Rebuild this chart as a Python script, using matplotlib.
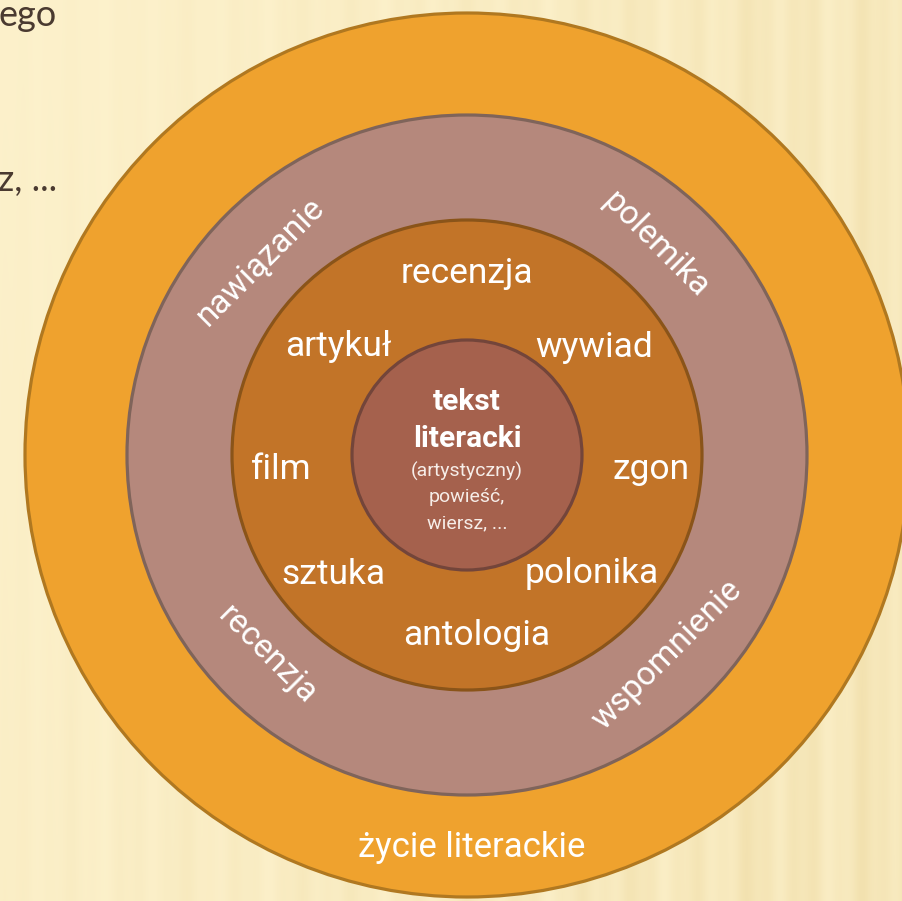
import numpy as np
import matplotlib
matplotlib.use("Agg")
import matplotlib.pyplot as plt
from matplotlib.patches import Circle

# ---- data ----
ring_names = ["życie literackie", "kontekst", "otoczenie", "tekst literacki"]
ring_radii = [442, 340, 235, 115]
ring_fill = ["#EFA22E", "#B5887C", "#C27428", "#A5614D"]
ring_edge = ["#B07820", "#7F645A", "#8A5419", "#73453A"]

outer_label = "życie literackie"
middle_labels = ["nawiązanie", "polemika", "recenzja", "wspomnienie"]
middle_angles = [137, 48, 225, 315]
middle_rot = [45, -45, -45, 45]
inner_labels = ["recenzja", "wywiad", "zgon", "polonika", "antologia", "sztuka", "film", "artykuł"]
inner_angles = [90, 41, -3.5, -43, -87, 221, 183.5, 139]
inner_dist = [185, 168, 184, 170, 178, 177, 186, 170]
core_title = ["tekst", "literacki"]
core_sub = ["(artystyczny)", "powieść,", "wiersz, ..."]
corner_texts = ["ego", "z, ..."]

W, H = 902, 901
cx, cy = 467, 455

fig = plt.figure(figsize=(W / 100, H / 100), dpi=100)
ax = fig.add_axes([0, 0, 1, 1])
ax.set_xlim(0, W)
ax.set_ylim(H, 0)
ax.set_aspect("equal")
ax.axis("off")

# background: cream with faint vertical stripes, darker to the right
xs = np.arange(W)
ys = np.arange(H)
X, Y = np.meshgrid(xs, ys)
stripes = 0.5 + 0.25 * np.sin(X / 9.0) + 0.15 * np.sin(X / 3.7 + 1.3) + 0.1 * np.sin(X / 23.0)
grad = np.clip((X / W) * 0.8 + (Y / H) * 0.2, 0, 1)
light = np.array([253, 242, 205]) / 255
dark = np.array([233, 210, 148]) / 255
t = np.clip(0.15 * grad + 0.4 * grad * stripes + 0.05 * stripes, 0, 1)
img = light[None, None, :] * (1 - t[..., None]) + dark[None, None, :] * t[..., None]
ax.imshow(img, extent=(0, W, H, 0), zorder=0)

# corner text (cut off slide text)
ax.text(-1, 15, corner_texts[0], fontsize=26, family="Lato", color="#4A3A30",
        ha="left", va="center", zorder=1)
ax.text(-2, 181, corner_texts[1], fontsize=26, family="Lato", color="#4A3A30",
        ha="left", va="center", zorder=1)

# rings
for r, fc, ec in zip(ring_radii, ring_fill, ring_edge):
    ax.add_patch(Circle((cx, cy), r, facecolor=fc, edgecolor=ec, lw=2.3, zorder=2))

white = "#FFFFFF"
font = "Roboto"

# outer label
ax.text(cx + 5, 848, outer_label, fontsize=25, family=font, color=white,
        ha="center", va="center", zorder=3)

# middle ring labels
for lab, ang, rot in zip(middle_labels, middle_angles, middle_rot):
    r = 283
    x = cx + r * np.cos(np.radians(ang))
    y = cy - r * np.sin(np.radians(ang))
    ax.text(x, y, lab, fontsize=24, family=font, color=white, rotation=rot,
            rotation_mode="anchor", ha="center", va="center", zorder=3)

# inner ring labels
for lab, ang, d in zip(inner_labels, inner_angles, inner_dist):
    x = cx + d * np.cos(np.radians(ang))
    y = cy - d * np.sin(np.radians(ang)) + 3
    ax.text(x, y, lab, fontsize=25.5, family=font, color=white,
            ha="center", va="center", zorder=3)

# core
ax.text(cx, 402, core_title[0], fontsize=21.5, family=font, weight="bold", color=white,
        ha="center", va="center", zorder=3)
ax.text(cx, 439, core_title[1], fontsize=21.5, family=font, weight="bold", color=white,
        ha="center", va="center", zorder=3)
for i, s in enumerate(core_sub):
    ax.text(cx, 471 + i * 26, s, fontsize=14, family=font, color="#F6EDE8",
            ha="center", va="center", zorder=3)

fig.savefig("out.png", dpi=100)
